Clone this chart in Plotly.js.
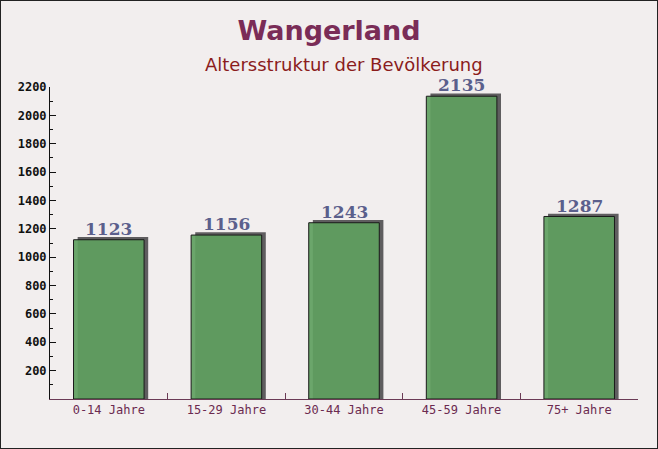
<!DOCTYPE html>
<html>
<head>
<meta charset="utf-8">
<script src="https://cdn.plot.ly/plotly-3.0.1.min.js"></script>
<style>
  html, body { margin: 0; padding: 0; background: #ffffff; }
  #chart { width: 656px; height: 447px; border: 1px solid #222; }
</style>
</head>
<body>
<div id="chart"></div>
<script>
const categories = ['0-14 Jahre', '15-29 Jahre', '30-44 Jahre', '45-59 Jahre', '75+ Jahre'];
const population = [1123, 1156, 1243, 2135, 1287];
const yTicks = [200, 400, 600, 800, 1000, 1200, 1400, 1600, 1800, 2000, 2200];

(function(){
    const shadowLift = 20;   // shadow sits a few pixels above/right of the bar
    const shadow = {
        type: 'bar',
        x: categories,
        y: population.map(v => v + shadowLift),
        width: 0.6,
        offset: -0.265,
        marker: {color: '#5f5d5f', line: {width: 0}},
        hoverinfo: 'skip',
        showlegend: false
    };
    const bars = {
        type: 'bar',
        x: categories,
        y: population,
        width: 0.6,
        marker: {color: 'rgba(96,160,96,0.92)', line: {color: '#1a1a1a', width: 1}},
        hovertemplate: '%{x}: %{y}<extra></extra>',
        showlegend: false
    };

    const labels = categories.map((c, i) => ({
        x: c, y: population[i] + shadowLift,
        xref: 'x', yref: 'y',
        text: '<b>' + population[i] + '</b>',
        showarrow: false,
        yanchor: 'bottom',
        yshift: -4,
        font: {family: 'DejaVu Serif, serif', size: 17, color: '#5b5f8c'}
    }));

    const layout = {
        width: 656,
        height: 447,
        barmode: 'overlay',
        paper_bgcolor: '#f2eeee',
        plot_bgcolor: 'rgba(0,0,0,0)',
        margin: {l: 49, r: 19, t: 86, b: 49},
        title: {
            text: '<b>Wangerland</b>',
            font: {family: 'DejaVu Sans, sans-serif', size: 27, color: '#7a2c57'},
            x: 0.5, xanchor: 'center', y: 0.935, yanchor: 'middle'
        },
        xaxis: {
            type: 'category',
            showline: true, linecolor: '#6b3a55', linewidth: 1,
            ticks: 'inside', tickson: 'boundaries', ticklen: 6, tickcolor: '#6b3a55',
            tickfont: {family: 'DejaVu Sans Mono, monospace', size: 12, color: '#6b2a50'},
            showgrid: false, zeroline: false, fixedrange: true
        },
        yaxis: {
            range: [0, 2200],
            tickvals: yTicks,
            showline: true, linecolor: '#111', linewidth: 1,
            ticks: 'inside', ticklen: 6, tickcolor: '#111',
            minor: {dtick: 100, ticks: 'inside', ticklen: 3, tickcolor: '#111', showgrid: false},
            tickfont: {family: 'DejaVu Sans Mono, monospace', size: 12, color: '#111', weight: 'bold'},
            showgrid: false, zeroline: false, fixedrange: true
        },
        annotations: labels.concat([{
            text: 'Altersstruktur der Bevölkerung',
            xref: 'paper', yref: 'paper', x: 0.5, y: 1, yshift: 23,
            xanchor: 'center', yanchor: 'middle', showarrow: false,
            font: {family: 'DejaVu Sans, sans-serif', size: 18, color: '#8b1c1c'}
        }])
    };

    Plotly.newPlot('chart', [shadow, bars], layout, {displayModeBar: false});
})();
</script>
</body>
</html>
